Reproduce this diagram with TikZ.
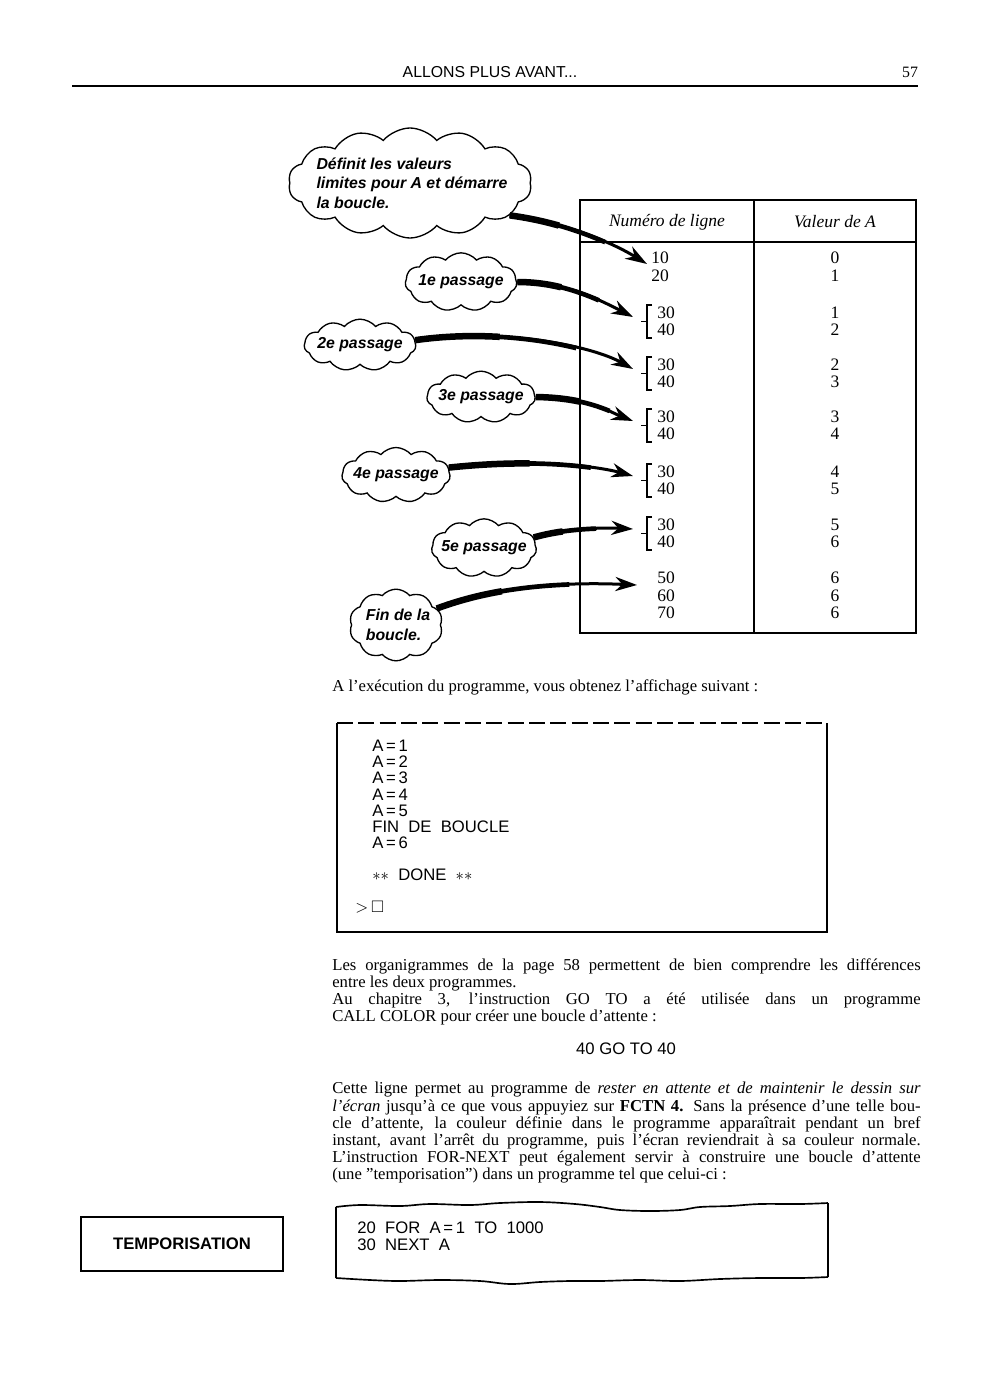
\documentclass[tikz,border=0pt]{standalone}
\usepackage{fontspec}
\setmainfont{Liberation Serif}
\setsansfont{Liberation Sans}
\usepackage{amssymb}
\usetikzlibrary{arrows.meta,shapes.symbols,calc,positioning}
\setlength{\parindent}{0pt}
% fleche effilee : trois epaisseurs, du nuage vers la pointe
\newcommand{\fleche}[4]{%
  \draw[line width=1.8pt,-{Stealth[length=13pt,width=8.5pt]}] (#1) .. controls (#2) and (#3) .. (#4);
  \draw[line width=2.8pt] (#1) .. controls ($0.3333*(#1)+0.6667*(#2)$) and ($0.1111*(#1)+0.4444*(#2)+0.4444*(#3)$)
     .. ($0.037*(#1)+0.2222*(#2)+0.4444*(#3)+0.2963*(#4)$);
  \draw[line width=3.9pt] (#1) .. controls ($0.6667*(#1)+0.3333*(#2)$) and ($0.4444*(#1)+0.4444*(#2)+0.1111*(#3)$)
     .. ($0.2963*(#1)+0.4444*(#2)+0.2222*(#3)+0.037*(#4)$);}
\tikzset{
  bulle/.style={cloud, draw, line width=0.8pt, cloud puffs=11, cloud puff arc=100, cloud ignores aspect, inner sep=0pt},
  bulletxt/.style={font=\sffamily\bfseries\itshape\fontsize{9.5}{11.8}\selectfont, inner sep=0pt, align=left},
  chiffre/.style={font=\fontsize{10.5}{12}\selectfont, inner sep=0pt},
  crochet/.style={line width=0.7pt},
  ecran/.style={font=\sffamily\fontsize{10}{10}\selectfont, anchor=west, inner sep=0pt},
  texte/.style={font=\fontsize{10}{10.3}\selectfont, text width=353pt, align=justify, anchor=north west, inner sep=0pt},
}

\begin{document}
\begin{tikzpicture}[x=0.6pt,y=-0.6pt]
 \useasboundingbox (0,0) rectangle (993,1400);
 % en-tete
 \node[font=\sffamily\fontsize{9.5}{10}\selectfont, anchor=base] (titre) at (490,77) {ALLONS PLUS AVANT...};
 \node[font=\fontsize{9.5}{10}\selectfont, anchor=base] (page) at (910,77) {57};
 \draw[line width=1.1pt] (72,86) -- (918,86);

 % tableau
 \draw[line width=1.4pt] (580,200) rectangle (916,633);
 \draw[line width=0.9pt] (580,242) -- (916,242);
 \draw[line width=0.9pt] (754,200) -- (754,633);
 \node[font=\itshape\fontsize{10.5}{12}\selectfont] (hnum) at (667,222) {Numéro de ligne};
 \node[font=\itshape\fontsize{10.5}{12}\selectfont] (hval) at (835,222) {Valeur de A};
 \node[chiffre] (t10) at (660,258) {10};
 \node[chiffre] (t20) at (660,276) {20};
 \node[chiffre] (v10) at (835,258) {0};
 \node[chiffre] (v20) at (835,276) {1};
 \coordinate (pointe0) at (647,264);
 \foreach \y/\a/\b [count=\i] in {313/1/2,365/2/3,417/3/4,472/4/5,525/5/6}{
   \node[chiffre] (t\i-30) at (666,\y) {30};
   \node[chiffre] (t\i-40) at (666,\y+17) {40};
   \node[chiffre] (v\i-a) at (835,\y) {\a};
   \node[chiffre] (v\i-b) at (835,\y+17) {\b};
   \draw[crochet] (652,\y-8) -- (647,\y-8) -- (647,\y+25) -- (652,\y+25)
                  (647,\y+8.5) -- (641,\y+8.5);
   \coordinate (pointe\i) at (633,\y+4);
 }
 \node[chiffre] (t50) at (666,578) {50};
 \node[chiffre] (t60) at (666,596) {60};
 \node[chiffre] (t70) at (666,613) {70};
 \node[chiffre] (v50) at (835,578) {6};
 \node[chiffre] (v60) at (835,596) {6};
 \node[chiffre] (v70) at (835,613) {6};
 \coordinate (pointe6) at (637,585);

 % bulles
 \node[bulle, cloud puffs=14, minimum width=146pt, minimum height=66pt] (c1) at (410,183) {};
 \node[bulletxt] (c1t) at (412,183) {Définit les valeurs\\limites pour A et démarre\\la boucle.};
 \node[bulle, minimum width=67pt, minimum height=35pt] (c2) at (461,282) {};
 \node[bulletxt] (c2t) at (c2) {1e passage};
 \node[bulle, minimum width=67pt, minimum height=31pt] (c3) at (360,345) {};
 \node[bulletxt] (c3t) at (c3) {2e passage};
 \node[bulle, minimum width=65pt, minimum height=31pt] (c4) at (481,397) {};
 \node[bulletxt] (c4t) at (c4) {3e passage};
 \node[bulle, minimum width=65pt, minimum height=33pt] (c5) at (396,475) {};
 \node[bulletxt] (c5t) at (c5) {4e passage};
 \node[bulle, minimum width=63pt, minimum height=35pt] (c6) at (484,548) {};
 \node[bulletxt] (c6t) at (c6) {5e passage};
 \node[bulle, cloud puffs=10, minimum width=56pt, minimum height=43pt] (c7) at (396,625) {};
 \node[bulletxt] (c7t) at (398,625) {Fin de la\\boucle.};

 % fleches
 \fleche{c1.-18}{560,222}{608,240}{pointe0}
 \fleche{c2.east}{565,282}{600,300}{pointe1}
 \fleche{c3.5}{500,328}{590,345}{pointe2}
 \fleche{c4.east}{590,398}{610,412}{pointe3}
 \fleche{c5.8}{540,458}{600,467}{pointe4}
 \fleche{c6.12}{560,530}{595,527}{pointe5}
 \fleche{c7.22}{500,585}{570,582}{pointe6}

 % affichage
 \node[font=\fontsize{10}{10.3}\selectfont, anchor=base west, inner sep=0pt] (intro) at (332,691)
   {A l'exécution du programme, vous obtenez l'affichage suivant :};
 \draw[line width=1.1pt, dash pattern=on 9.5pt off 3.3pt] (337,723) -- (827,723);
 \draw[line width=1.1pt] (337,723) -- (337,932) -- (827,932) -- (827,723);
 \foreach \t [count=\i from 0] in {A\,=\,1, A\,=\,2, A\,=\,3, A\,=\,4, A\,=\,5, FIN\ \ DE\ \ BOUCLE, A\,=\,6}
   \node[ecran] (ligne\i) at (372,746+16.1*\i) {\t};
 \node[ecran] (done) at (372,875) {$\ast\ast$\ \ DONE\ \ $\ast\ast$};
 \node[ecran] (invite) at (355,907) {$>$\,$\square$};

 % texte courant
 \node[texte] (par1) at (332,958) {Les organigrammes de la page 58 permettent de bien comprendre les différences\linebreak
   entre les deux programmes.\\
   Au chapitre 3, l'instruction GO TO a été utilisée dans un programme\linebreak
   CALL COLOR pour créer une boucle d'attente :};
 \node[font=\sffamily\fontsize{10}{10}\selectfont, anchor=base] (goto) at (626,1054) {40 GO TO 40};
 \node[texte] (par2) at (332,1082) {Cette ligne permet au programme de \textit{rester en attente et de maintenir le dessin sur}\linebreak
   \textit{l'écran} jusqu'à ce que vous appuyiez sur \textbf{FCTN 4.} Sans la présence d'une telle bou-\linebreak
   cle d'attente, la couleur définie dans le programme apparaîtrait pendant un bref\linebreak
   instant, avant l'arrêt du programme, puis l'écran reviendrait à sa couleur normale.\linebreak
   L'instruction FOR-NEXT peut également servir à construire une boucle d'attente\linebreak
   (une ''temporisation'') dans un programme tel que celui-ci :};

 % temporisation
 \node[draw, line width=1.2pt, minimum width=121pt, minimum height=32pt, font=\sffamily\bfseries\fontsize{10}{10}\selectfont] (tempo) at (182,1244) {TEMPORISATION};
 \draw[line width=1pt] plot[smooth, tension=0.6] coordinates {(336,1207) (360,1205) (400,1206) (430,1204) (470,1205) (500,1203) (540,1202) (575,1204) (600,1207) (620,1210) (650,1211) (680,1210) (700,1207) (730,1206) (760,1204) (800,1204) (828,1203)};
 \draw[line width=1pt] plot[smooth, tension=0.6] coordinates {(336,1278) (370,1280) (400,1281) (440,1280) (480,1281) (510,1284) (540,1282) (570,1281) (600,1281) (640,1280) (680,1281) (720,1279) (760,1278) (800,1278) (828,1277)};
 \draw[line width=1pt] (336,1207) -- (336,1278) (828,1203) -- (828,1277);
 \node[ecran] (code1) at (357,1228) {20\ \ FOR\ \ A\,=\,1\ \ TO\ \ 1000};
 \node[ecran] (code2) at (357,1245) {30\ \ NEXT\ \ A};
\end{tikzpicture}
\end{document}
